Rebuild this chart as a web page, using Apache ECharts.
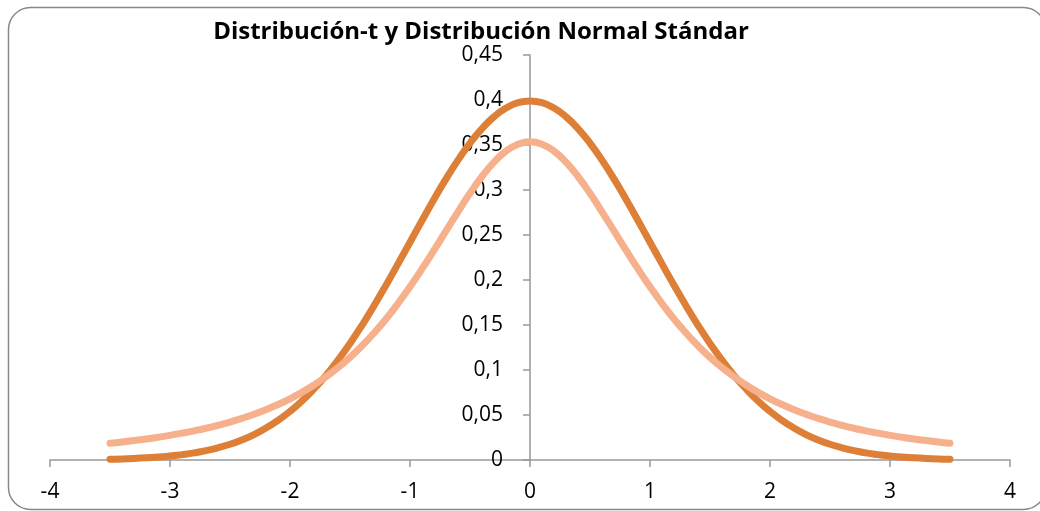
<!DOCTYPE html>
<html>
<head>
<meta charset="utf-8">
<script src="https://cdn.jsdelivr.net/npm/echarts@6/dist/echarts.min.js"></script>
<style>
  html, body { margin: 0; padding: 0; background: #fff; }
  #chart { width: 1040px; height: 511px; }
</style>
</head>
<body>
<div id="chart"></div>
<script>
// valores (paso 0,1 en x)
var xs = [-3.5, -3.4, -3.3, -3.2, -3.1, -3, -2.9, -2.8, -2.7, -2.6, -2.5, -2.4, -2.3, -2.2, -2.1,
          -2, -1.9, -1.8, -1.7, -1.6, -1.5, -1.4, -1.3, -1.2, -1.1, -1, -0.9, -0.8, -0.7, -0.6,
          -0.5, -0.4, -0.3, -0.2, -0.1, 0, 0.1, 0.2, 0.3, 0.4, 0.5, 0.6, 0.7, 0.8, 0.9,
          1, 1.1, 1.2, 1.3, 1.4, 1.5, 1.6, 1.7, 1.8, 1.9, 2, 2.1, 2.2, 2.3, 2.4,
          2.5, 2.6, 2.7, 2.8, 2.9, 3, 3.1, 3.2, 3.3, 3.4, 3.5];
var normalVals = [0.0009, 0.0012, 0.0017, 0.0024, 0.0033, 0.0044, 0.0060, 0.0079, 0.0104, 0.0136, 0.0175, 0.0224, 0.0283, 0.0355, 0.0440,
                  0.0540, 0.0656, 0.0790, 0.0940, 0.1109, 0.1295, 0.1497, 0.1714, 0.1942, 0.2179, 0.2420, 0.2661, 0.2897, 0.3123, 0.3332,
                  0.3521, 0.3683, 0.3814, 0.3910, 0.3970, 0.3989, 0.3970, 0.3910, 0.3814, 0.3683, 0.3521, 0.3332, 0.3123, 0.2897, 0.2661,
                  0.2420, 0.2179, 0.1942, 0.1714, 0.1497, 0.1295, 0.1109, 0.0940, 0.0790, 0.0656, 0.0540, 0.0440, 0.0355, 0.0283, 0.0224,
                  0.0175, 0.0136, 0.0104, 0.0079, 0.0060, 0.0044, 0.0033, 0.0024, 0.0017, 0.0012, 0.0009];
var tVals = [0.0186, 0.0200, 0.0216, 0.0234, 0.0253, 0.0274, 0.0298, 0.0324, 0.0353, 0.0386, 0.0422, 0.0463, 0.0508, 0.0559, 0.0616,
             0.0680, 0.0753, 0.0834, 0.0925, 0.1027, 0.1141, 0.1269, 0.1411, 0.1567, 0.1739, 0.1925, 0.2123, 0.2331, 0.2545, 0.2758,
             0.2963, 0.3150, 0.3310, 0.3432, 0.3509, 0.3536, 0.3509, 0.3432, 0.3310, 0.3150, 0.2963, 0.2758, 0.2545, 0.2331, 0.2123,
             0.1925, 0.1739, 0.1567, 0.1411, 0.1269, 0.1141, 0.1027, 0.0925, 0.0834, 0.0753, 0.0680, 0.0616, 0.0559, 0.0508, 0.0463,
             0.0422, 0.0386, 0.0353, 0.0324, 0.0298, 0.0274, 0.0253, 0.0234, 0.0216, 0.0200, 0.0186];
var yTickLabels = ['0', '0,05', '0,1', '0,15', '0,2', '0,25', '0,3', '0,35', '0,4', '0,45'];
var xTickLabels = ['-4', '-3', '-2', '-1', '0', '1', '2', '3', '4'];

function pairs(a, b) {
    var out = [];
    for (var i = 0; i < a.length; i++) out.push([a[i], b[i]]);
    return out;
}

var chart = echarts.init(document.getElementById('chart'));
var font = 'Open Sans, Noto Sans, sans-serif';
var gridW = 1040 - 50 - 30;
var option = {
    animation: false,
    title: {
        text: 'Distribución-t y Distribución Normal Stándar',
        left: 476,
        textAlign: 'center',
        top: 15,
        textStyle: { fontFamily: font, fontWeight: 'bold', fontSize: 24, color: '#000' }
    },
    graphic: [{
        type: 'rect',
        shape: { x: 8.5, y: 7.5, width: 1037, height: 502, r: 22 },
        style: { fill: 'none', stroke: '#888', lineWidth: 1.5 },
        silent: true
    }],
    grid: { left: 50, right: 30, top: 55, bottom: 51, outerBoundsMode: 'none', containLabel: false },
    xAxis: {
        type: 'value',
        min: -4, max: 4, interval: 1,
        axisLine: { show: true, onZero: true, lineStyle: { color: '#999', width: 1.5 } },
        axisTick: { show: true, inside: false, length: 7, lineStyle: { color: '#999', width: 1.5 } },
        axisLabel: {
            margin: 22, fontFamily: font, fontSize: 21, color: '#000',
            formatter: function (v) { return xTickLabels[Math.round(v) + 4]; }
        },
        splitLine: { show: false }
    },
    yAxis: {
        type: 'value',
        min: 0, max: 0.45, interval: 0.05,
        offset: -gridW / 2,
        axisLine: { show: true, onZero: false, lineStyle: { color: '#999', width: 1.5 } },
        axisTick: { show: true, inside: false, length: 7, lineStyle: { color: '#999', width: 1.5 } },
        axisLabel: {
            margin: 27, fontFamily: font, fontSize: 21, color: '#000',
            formatter: function (v) { return yTickLabels[Math.round(v / 0.05)]; }
        },
        splitLine: { show: false }
    },
    series: [{
        name: 'Normal',
        type: 'line',
        data: pairs(xs, normalVals),
        smooth: true,
        showSymbol: false,
        lineStyle: { color: '#DE7F37', width: 7, cap: 'round' }
    }, {
        name: 't',
        type: 'line',
        data: pairs(xs, tVals),
        smooth: true,
        showSymbol: false,
        lineStyle: { color: '#F6B08C', width: 7, cap: 'round' }
    }]
};
chart.setOption(option);
</script>
</body>
</html>
